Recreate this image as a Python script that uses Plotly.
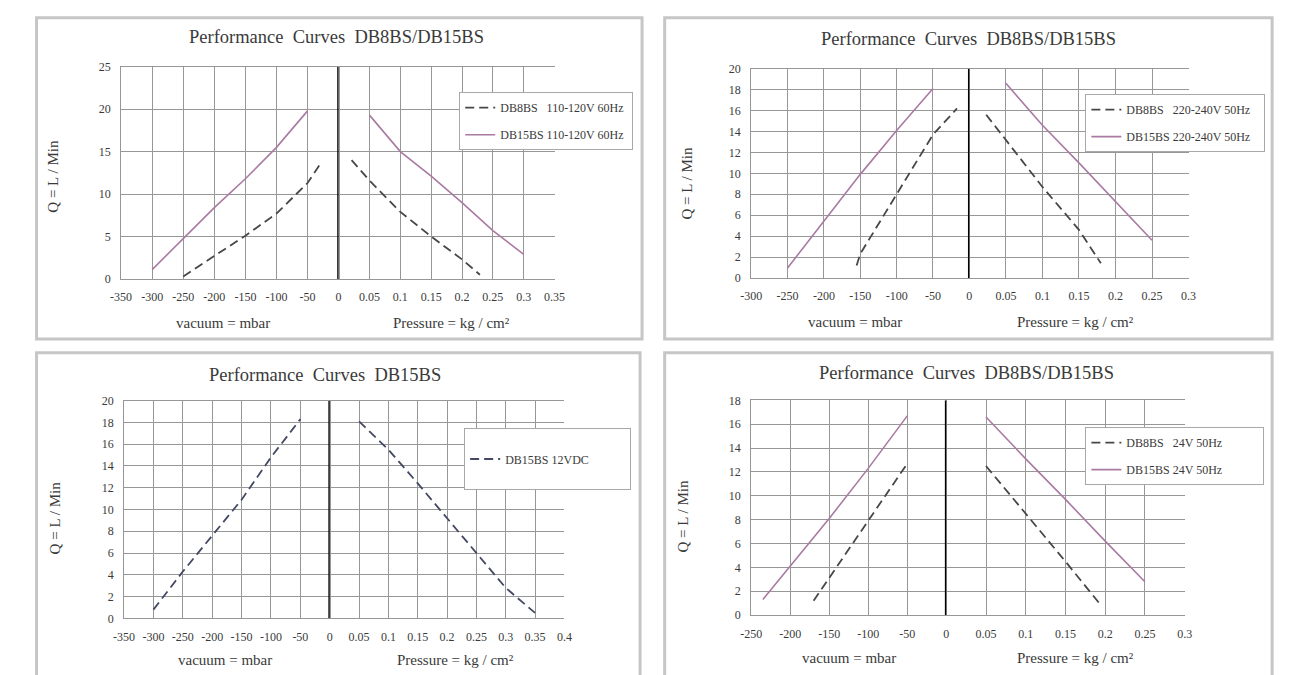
import plotly.graph_objects as go

W, H = 1290, 675

# ---------------- data ----------------
# Panel 1 : 110-120V 60Hz
p1_vac_ticks = [-350, -300, -250, -200, -150, -100, -50, 0]
p1_pr_ticks = [0.05, 0.1, 0.15, 0.2, 0.25, 0.3, 0.35]
p1_y_ticks = [0, 5, 10, 15, 20, 25]
p1_db8_vac_x = [-250, -200, -150, -100, -50, -29]
p1_db8_vac_y = [0.3, 2.7, 5.1, 7.7, 11.3, 13.6]
p1_db15_vac_x = [-300, -250, -200, -150, -100, -50]
p1_db15_vac_y = [1.1, 4.8, 8.4, 11.8, 15.5, 19.8]
p1_db8_pr_x = [0.021, 0.05, 0.1, 0.15, 0.2, 0.229]
p1_db8_pr_y = [14.0, 11.6, 7.9, 5.0, 2.3, 0.5]
p1_db15_pr_x = [0.05, 0.1, 0.15, 0.2, 0.25, 0.3]
p1_db15_pr_y = [19.3, 15.0, 12.1, 9.0, 5.7, 2.9]

# Panel 2 : 220-240V 50Hz
p2_vac_ticks = [-300, -250, -200, -150, -100, -50, 0]
p2_pr_ticks = [0.05, 0.1, 0.15, 0.2, 0.25, 0.3]
p2_y_ticks = [0, 2, 4, 6, 8, 10, 12, 14, 16, 18, 20]
p2_db8_vac_x = [-155, -150, -100, -50, -17]
p2_db8_vac_y = [1.2, 2.3, 8.0, 13.7, 16.2]
p2_db15_vac_x = [-250, -200, -150, -100, -50]
p2_db15_vac_y = [0.95, 5.4, 9.9, 14.1, 18.1]
p2_db8_pr_x = [0.023, 0.05, 0.1, 0.15, 0.18]
p2_db8_pr_y = [15.6, 13.2, 8.7, 4.6, 1.4]
p2_db15_pr_x = [0.05, 0.1, 0.15, 0.2, 0.25]
p2_db15_pr_y = [18.6, 14.6, 11.0, 7.3, 3.6]

# Panel 3 : DB15BS 12VDC
p3_vac_ticks = [-350, -300, -250, -200, -150, -100, -50, 0]
p3_pr_ticks = [0.05, 0.1, 0.15, 0.2, 0.25, 0.3, 0.35, 0.4]
p3_y_ticks = [0, 2, 4, 6, 8, 10, 12, 14, 16, 18, 20]
p3_vac_x = [-300, -250, -200, -150, -100, -50]
p3_vac_y = [0.8, 4.3, 7.6, 10.9, 14.8, 18.3]
p3_pr_x = [0.05, 0.1, 0.15, 0.2, 0.25, 0.3, 0.35]
p3_pr_y = [18.1, 15.5, 12.4, 9.2, 6.1, 2.8, 0.5]

# Panel 4 : 24V 50Hz
p4_vac_ticks = [-250, -200, -150, -100, -50, 0]
p4_pr_ticks = [0.05, 0.1, 0.15, 0.2, 0.25, 0.3]
p4_y_ticks = [0, 2, 4, 6, 8, 10, 12, 14, 16, 18]
p4_db8_vac_x = [-170, -150, -100, -50]
p4_db8_vac_y = [1.2, 3.1, 7.9, 12.7]
p4_db15_vac_x = [-235, -200, -150, -100, -50]
p4_db15_vac_y = [1.3, 4.1, 8.1, 12.3, 16.7]
p4_db8_pr_x = [0.05, 0.1, 0.15, 0.195]
p4_db8_pr_y = [12.5, 8.5, 4.5, 0.8]
p4_db15_pr_x = [0.05, 0.1, 0.15, 0.2, 0.25]
p4_db15_pr_y = [16.6, 13.1, 9.7, 6.2, 2.8]

NB = "\u00a0"
titles = ["Performance" + NB * 2 + "Curves" + NB * 2 + "DB8BS/DB15BS",
          "Performance" + NB * 2 + "Curves" + NB * 2 + "DB8BS/DB15BS",
          "Performance" + NB * 2 + "Curves" + NB * 2 + "DB15BS",
          "Performance" + NB * 2 + "Curves" + NB * 2 + "DB8BS/DB15BS"]
vac_title = "vacuum = mbar"
pr_title = "Pressure = kg / cm\u00b2"
y_title = "Q = L / Min"

legend_names = [
    ["DB8BS" + NB * 3 + "110-120V 60Hz" + NB, "DB15BS" + NB + "110-120V 60Hz" + NB],
    ["DB8BS" + NB * 3 + "220-240V 50Hz" + NB * 3, "DB15BS" + NB + "220-240V 50Hz" + NB * 3],
    [NB + "<br>DB15BS" + NB + "12VDC" + NB * 12 + "<br>" + NB],
    ["DB8BS" + NB * 3 + "24V 50Hz" + NB * 12, "DB15BS" + NB + "24V 50Hz" + NB * 12],
]

# ---------------- styling ----------------
FONT = "Liberation Serif"
TXT = "#3a3a3a"
GRID = "#979797"
DASH_C = "#474747"
DASH3_C = "#434963"
PURP = "#a97aa2"
dash_line = dict(color=DASH_C, width=1.8, dash="9px,5px")
dash3_line = dict(color=DASH3_C, width=1.8, dash="9px,5px")
solid_line = dict(color=PURP, width=1.6)


def fx(p):
    return p / W


def fy(p):
    return 1 - p / H


# layout geometry per panel (pixels)
geo = [
    dict(xl=(112, 333.3), xr=(333.3, 553), yb=277.7, yt=61,
         vac=[-350, 0], pr=[0, 0.35], ymax=25,
         box=(26, 11, 642, 339), title=(331, 31), vt=(216, 323), pt=(448, 323), yt_pos=(43, 173),
         leg=(456, 87)),
    dict(xl=(753, 975), xr=(975, 1198), yb=276.7, yt=63,
         vac=[-300, 0], pr=[0, 0.3], ymax=20,
         box=(665, 11, 1283, 339), title=(974, 33), vt=(859, 322), pt=(1083, 322), yt_pos=(688, 180),
         leg=(1093, 89)),
    dict(xl=(115, 324.3), xr=(324.3, 563), yb=624.3, yt=402,
         vac=[-350, 0], pr=[0, 0.4], ymax=20,
         box=(26, 353, 640, 690), title=(319, 376), vt=(218, 667), pt=(452, 667), yt_pos=(45, 522),
         leg=(461, 430)),
    dict(xl=(753, 951.5), xr=(951.5, 1194), yb=621, yt=401.7,
         vac=[-250, 0], pr=[0, 0.3], ymax=18,
         box=(665, 353, 1283, 690), title=(972, 374), vt=(853, 665), pt=(1083, 665), yt_pos=(684, 520),
         leg=(1093, 429)),
]

vac_ticks = [p1_vac_ticks, p2_vac_ticks, p3_vac_ticks, p4_vac_ticks]
pr_ticks = [p1_pr_ticks, p2_pr_ticks, p3_pr_ticks, p4_pr_ticks]
y_ticks = [p1_y_ticks, p2_y_ticks, p3_y_ticks, p4_y_ticks]

series = [
    [  # (name index, left x, left y, right x, right y, line)
        (0, p1_db8_vac_x, p1_db8_vac_y, p1_db8_pr_x, p1_db8_pr_y, dash_line),
        (1, p1_db15_vac_x, p1_db15_vac_y, p1_db15_pr_x, p1_db15_pr_y, solid_line),
    ],
    [
        (0, p2_db8_vac_x, p2_db8_vac_y, p2_db8_pr_x, p2_db8_pr_y, dash_line),
        (1, p2_db15_vac_x, p2_db15_vac_y, p2_db15_pr_x, p2_db15_pr_y, solid_line),
    ],
    [
        (0, p3_vac_x, p3_vac_y, p3_pr_x, p3_pr_y, dash3_line),
    ],
    [
        (0, p4_db8_vac_x, p4_db8_vac_y, p4_db8_pr_x, p4_db8_pr_y, dash_line),
        (1, p4_db15_vac_x, p4_db15_vac_y, p4_db15_pr_x, p4_db15_pr_y, solid_line),
    ],
]

fig = go.Figure()
layout = dict(
    width=W, height=H, margin=dict(l=0, r=0, t=0, b=0),
    paper_bgcolor="white", plot_bgcolor="white",
    font=dict(family=FONT, color=TXT, size=12),
    shapes=[], annotations=[],
)

for i, g in enumerate(geo):
    k = i + 1
    xl_id = 2 * i + 1
    xr_id = 2 * i + 2
    xl_ref = "x" if xl_id == 1 else f"x{xl_id}"
    xr_ref = f"x{xr_id}"
    y_ref = "y" if k == 1 else f"y{k}"
    leg_id = "legend" if k == 1 else f"legend{k}"

    for (ni, lx, ly, rx, ry, ln) in series[i]:
        grp = f"p{k}s{ni}"
        fig.add_trace(go.Scatter(x=lx, y=ly, xaxis=xl_ref, yaxis=y_ref, mode="lines",
                                 line=ln, name=legend_names[i][ni], legend=leg_id,
                                 legendgroup=grp, showlegend=True, hoverinfo="skip"))
        fig.add_trace(go.Scatter(x=rx, y=ry, xaxis=xr_ref, yaxis=y_ref, mode="lines",
                                 line=ln, name=legend_names[i][ni], legend=leg_id,
                                 legendgroup=grp, showlegend=False, hoverinfo="skip"))

    axis_common = dict(showgrid=True, gridcolor=GRID, gridwidth=1, zeroline=False,
                       showline=True, linecolor=GRID, linewidth=1, ticks="",
                       tickfont=dict(family=FONT, size=12, color=TXT),
                       ticklabelstandoff=7, fixedrange=True)
    vt = vac_ticks[i]
    pt = pr_ticks[i]
    layout["xaxis" if xl_id == 1 else f"xaxis{xl_id}"] = dict(
        axis_common, domain=[fx(g["xl"][0]), fx(g["xl"][1])], range=g["vac"],
        tickvals=vt, ticktext=[str(v) for v in vt], anchor=y_ref, mirror=True)
    layout[f"xaxis{xr_id}"] = dict(
        axis_common, domain=[fx(g["xr"][0]), fx(g["xr"][1])], range=g["pr"],
        tickvals=pt, ticktext=[str(v) for v in pt], anchor=y_ref, mirror=True)
    yt = y_ticks[i]
    layout["yaxis" if k == 1 else f"yaxis{k}"] = dict(
        axis_common, domain=[fy(g["yb"]), fy(g["yt"])], range=[0, g["ymax"]],
        tickvals=yt, ticktext=[str(v) for v in yt], anchor=xl_ref, mirror=True)

    # center zero line
    layout["shapes"].append(dict(type="line", xref=xl_ref, yref=y_ref, x0=0, x1=0, y0=0,
                                 y1=g["ymax"], line=dict(color="black", width=2.8), layer="above"))
    # panel frame
    bx0, by0, bx1, by1 = g["box"]
    layout["shapes"].append(dict(type="rect", xref="paper", yref="paper",
                                 x0=fx(bx0), x1=fx(bx1), y0=fy(by1), y1=fy(by0),
                                 line=dict(color="#c6c6c6", width=3), layer="below"))
    # texts
    layout["annotations"] += [
        dict(text=titles[i], x=fx(g["title"][0]), y=fy(g["title"][1]), xref="paper", yref="paper",
             showarrow=False, xanchor="center", yanchor="middle",
             font=dict(family=FONT, size=18.5, color=TXT)),
        dict(text=vac_title, x=fx(g["vt"][0]), y=fy(g["vt"][1]), xref="paper", yref="paper",
             showarrow=False, xanchor="center", yanchor="middle",
             font=dict(family=FONT, size=15, color=TXT)),
        dict(text=pr_title, x=fx(g["pt"][0]), y=fy(g["pt"][1]), xref="paper", yref="paper",
             showarrow=False, xanchor="center", yanchor="middle",
             font=dict(family=FONT, size=15, color=TXT)),
        dict(text=y_title, x=fx(g["yt_pos"][0]), y=fy(g["yt_pos"][1]), xref="paper", yref="paper",
             showarrow=False, xanchor="center", yanchor="middle", textangle=-90,
             font=dict(family=FONT, size=15, color=TXT)),
    ]
    layout[leg_id] = dict(x=fx(g["leg"][0]), y=fy(g["leg"][1]), xanchor="left", yanchor="top",
                          bgcolor="white", bordercolor="#a8a8a8", borderwidth=1,
                          font=dict(family=FONT, size=12, color=TXT),
                          tracegroupgap=8, traceorder="grouped", itemwidth=30, valign="middle")

fig.update_layout(**layout)
fig.write_html("out.html", config={"displayModeBar": False},
               post_script="document.body.style.margin='0';document.body.style.overflow='hidden';")
